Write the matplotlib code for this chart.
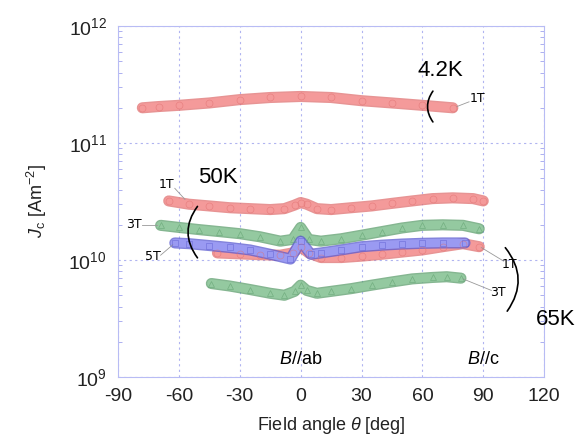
import numpy as np
import matplotlib.pyplot as plt

plt.rcParams['font.family'] = ['Liberation Sans', 'DejaVu Sans']
plt.rcParams['mathtext.fontset'] = 'custom'
plt.rcParams['mathtext.rm'] = 'Liberation Sans'
plt.rcParams['mathtext.it'] = 'Liberation Sans:italic'

# ---- data ----
x_42k_1t = [-78, -70, -60, -45, -30, -15, 0, 15, 30, 45, 60, 75]
y_42k_1t = [2.0e11, 2.05e11, 2.1e11, 2.2e11, 2.35e11, 2.45e11, 2.5e11, 2.45e11, 2.3e11, 2.2e11, 2.1e11, 2.0e11]

x_50k_1t = [-65, -55, -45, -35, -25, -15, -8, -3, 0, 3, 8, 15, 25, 35, 45, 55, 65, 75, 85, 90]
y_50k_1t = [3.2e10, 3.0e10, 2.9e10, 2.8e10, 2.75e10, 2.7e10, 2.75e10, 2.95e10, 3.1e10, 3.0e10,
            2.75e10, 2.7e10, 2.8e10, 2.9e10, 3.05e10, 3.2e10, 3.35e10, 3.4e10, 3.35e10, 3.2e10]

x_50k_3t = [-69, -60, -50, -40, -30, -20, -10, -4, 0, 4, 10, 20, 30, 40, 50, 60, 70, 80, 88]
y_50k_3t = [1.98e10, 1.9e10, 1.82e10, 1.75e10, 1.68e10, 1.58e10, 1.45e10, 1.5e10, 1.9e10, 1.5e10,
            1.45e10, 1.52e10, 1.63e10, 1.75e10, 1.88e10, 1.98e10, 2.0e10, 1.98e10, 1.85e10]

x_50k_5t = [-62, -55, -45, -35, -25, -15, -5, 0, 5, 10, 20, 30, 40, 50, 60, 70, 81]
y_50k_5t = [1.4e10, 1.38e10, 1.33e10, 1.28e10, 1.22e10, 1.12e10, 1.02e10, 1.45e10, 1.12e10,
            1.15e10, 1.22e10, 1.3e10, 1.34e10, 1.37e10, 1.39e10, 1.4e10, 1.4e10]

x_65k_1t = [-41, -30, -20, -10, -4, 0, 4, 10, 20, 30, 40, 50, 60, 70, 80, 88]
y_65k_1t = [1.15e10, 1.13e10, 1.11e10, 1.1e10, 1.15e10, 1.3e10, 1.15e10, 1.05e10, 1.05e10,
            1.08e10, 1.12e10, 1.17e10, 1.22e10, 1.3e10, 1.38e10, 1.3e10]

x_65k_3t = [-44, -35, -25, -15, -8, -3, 0, 3, 8, 15, 25, 35, 45, 55, 65, 72, 79]
y_65k_3t = [6.3e9, 6.0e9, 5.6e9, 5.2e9, 5.0e9, 5.4e9, 6.1e9, 5.5e9, 5.2e9, 5.4e9, 5.7e9,
            6.1e9, 6.5e9, 6.9e9, 7.1e9, 7.2e9, 7.0e9]

xticks = [-90, -60, -30, 0, 30, 60, 90, 120]

red, red_e = '#f49a9a', '#e07070'
green, green_e = '#94c9a0', '#5c9e6c'
blue, blue_e = '#9a9af2', '#5a5ad0'

fig = plt.figure(figsize=(5.87, 4.41), dpi=100)
ax = fig.add_axes([0.201, 0.145, 0.726, 0.796])


def band(x, y, c, ce, m):
    ax.plot(x, y, color=ce, lw=8, alpha=0.75, solid_capstyle='round', zorder=2)
    ax.plot(x, y, color=c, lw=6, solid_capstyle='round', zorder=2)
    ax.plot(x, y, ls='none', marker=m, ms=5, mfc='none', mec=ce, mew=0.5, alpha=0.6, zorder=3)


band(x_42k_1t, y_42k_1t, red, red_e, 'o')
band(x_50k_1t, y_50k_1t, red, red_e, 'o')
band(x_65k_1t, y_65k_1t, red, red_e, 'o')
band(x_50k_3t, y_50k_3t, green, green_e, '^')
band(x_65k_3t, y_65k_3t, green, green_e, '^')
band(x_50k_5t, y_50k_5t, blue, blue_e, 's')

ax.set_yscale('log')
ax.set_xlim(-90, 120)
ax.set_ylim(1e9, 1e12)
ax.set_xticks(xticks)
ax.set_xticklabels([str(t) for t in xticks])
ax.grid(True, which='major', color='#b0b4f0', ls=(0, (2, 3)), lw=0.8)
for s in ax.spines.values():
    s.set_color('#b8bcf4')
ax.tick_params(which='both', direction='in', colors='#a0a4ee', labelcolor='#222222',
               labelsize=14, right=True)
ax.tick_params(which='major', length=0, pad=8)
ax.tick_params(which='minor', length=3)

ax.set_xlabel(r'Field angle $\theta$ [deg]', fontsize=13, labelpad=7, color='#222222')
ax.set_ylabel(r'$J$$_{\rm c}$ [Am$^{-2}$]', fontsize=13, labelpad=14, color='#222222')

narrow = 'Liberation Sans Narrow'
# labels / brackets
ax.text(69, 4.2e11, '4.2K', fontsize=16, ha='center', va='center')
ax.annotate('', xy=(66, 2.9e11), xytext=(66, 1.45e11),
            arrowprops=dict(arrowstyle='-', lw=1.2, connectionstyle='arc3,rad=-0.4'))
ax.text(87, 2.4e11, '1T', fontsize=9, ha='center', va='center', family=narrow)
ax.plot([77, 83], [2.05e11, 2.25e11], color='#999999', lw=0.6)

ax.text(-41, 5.1e10, '50K', fontsize=16, ha='center', va='center')
ax.annotate('', xy=(-50, 3.0e10), xytext=(-50, 1.0e10),
            arrowprops=dict(arrowstyle='-', lw=1.2, connectionstyle='arc3,rad=-0.4'))
ax.text(-66, 4.4e10, '1T', fontsize=9, ha='center', va='center', family=narrow)
ax.plot([-62, -57], [4.1e10, 3.3e10], color='#999999', lw=0.6)
ax.text(-82, 2.0e10, '3T', fontsize=9, ha='center', va='center', family=narrow)
ax.plot([-78, -71], [2.0e10, 2.0e10], color='#999999', lw=0.6)
ax.text(-73, 1.07e10, '5T', fontsize=9, ha='center', va='center', family=narrow)
ax.plot([-69, -63], [1.1e10, 1.35e10], color='#999999', lw=0.6)

ax.text(103, 9.1e9, '1T', fontsize=9, ha='center', va='center', family=narrow)
ax.plot([89, 100], [1.28e10, 9.8e9], color='#999999', lw=0.6)
ax.text(97, 5.3e9, '3T', fontsize=9, ha='center', va='center', family=narrow)
ax.plot([80, 94], [6.9e9, 5.5e9], color='#999999', lw=0.6)
ax.annotate('', xy=(100, 1.33e10), xytext=(101, 3.5e9),
            arrowprops=dict(arrowstyle='-', lw=1.2, connectionstyle='arc3,rad=0.4'))
ax.text(125.5, 3.1e9, '65K', fontsize=16, ha='center', va='center', clip_on=False)

ax.text(0, 1.4e9, r'$B$//ab', fontsize=13, ha='center', va='center')
ax.text(90, 1.4e9, r'$B$//c', fontsize=13, ha='center', va='center')

fig.savefig('out.png', dpi=100)
